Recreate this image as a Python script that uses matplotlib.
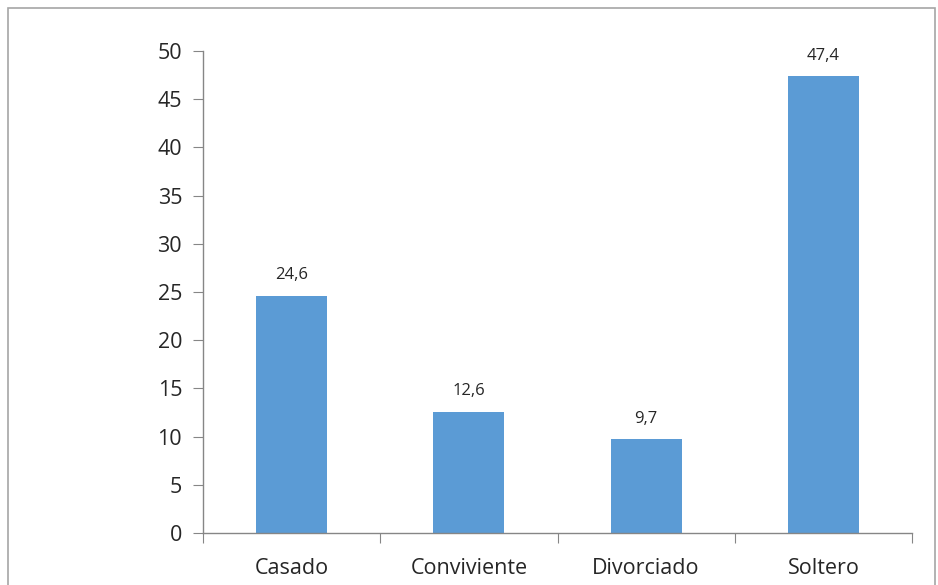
import matplotlib.pyplot as plt
from matplotlib.patches import Rectangle
import numpy as np

categories = ["Casado", "Conviviente", "Divorciado", "Soltero"]
values = [24.6, 12.6, 9.7, 47.4]
value_labels = ["24,6", "12,6", "9,7", "47,4"]
yticks = [0, 5, 10, 15, 20, 25, 30, 35, 40, 45, 50]

plt.rcParams["font.family"] = ["Open Sans", "DejaVu Sans"]
axis_color = "#868686"

fig = plt.figure(figsize=(9.38, 5.85), dpi=100)
ax = fig.add_axes([203 / 938, 1 - 533 / 585, (912 - 203) / 938, (533 - 51) / 585])

x = np.arange(len(categories))
ax.bar(x, values, width=0.4, color="#5B9BD5", zorder=2)

for i, (v, lab) in enumerate(zip(values, value_labels)):
    ax.text(i, v + 1.3, lab, ha="center", va="bottom", fontsize=12, color="#262626")

ax.set_xlim(-0.5, len(categories) - 0.5)
ax.set_ylim(0, 50)
ax.set_yticks(yticks)
ax.set_yticklabels([str(t) for t in yticks], fontsize=15.5, color="#262626")

# category labels sit between the boundary ticks
ax.set_xticks(np.arange(-0.5, len(categories)), minor=False)
ax.set_xticklabels([])
ax.set_xticks(x, minor=True)
ax.set_xticklabels(categories, minor=True, fontsize=15.5, color="#262626")
ax.tick_params(axis="x", which="major", length=7, color=axis_color, direction="out")
ax.tick_params(axis="x", which="minor", length=0, pad=18)
ax.tick_params(axis="y", length=7, color=axis_color, direction="out", pad=8)

for side in ["top", "right"]:
    ax.spines[side].set_visible(False)
for side in ["left", "bottom"]:
    ax.spines[side].set_color(axis_color)
    ax.spines[side].set_linewidth(1)

# outer chart border
fig.patches.append(Rectangle((8 / 938, -0.01), (935 - 8) / 938, 1 - 8 / 585 + 0.01,
                             transform=fig.transFigure, fill=False,
                             edgecolor="#A6A6A6", linewidth=1.2))

fig.savefig("out.png", dpi=100)
